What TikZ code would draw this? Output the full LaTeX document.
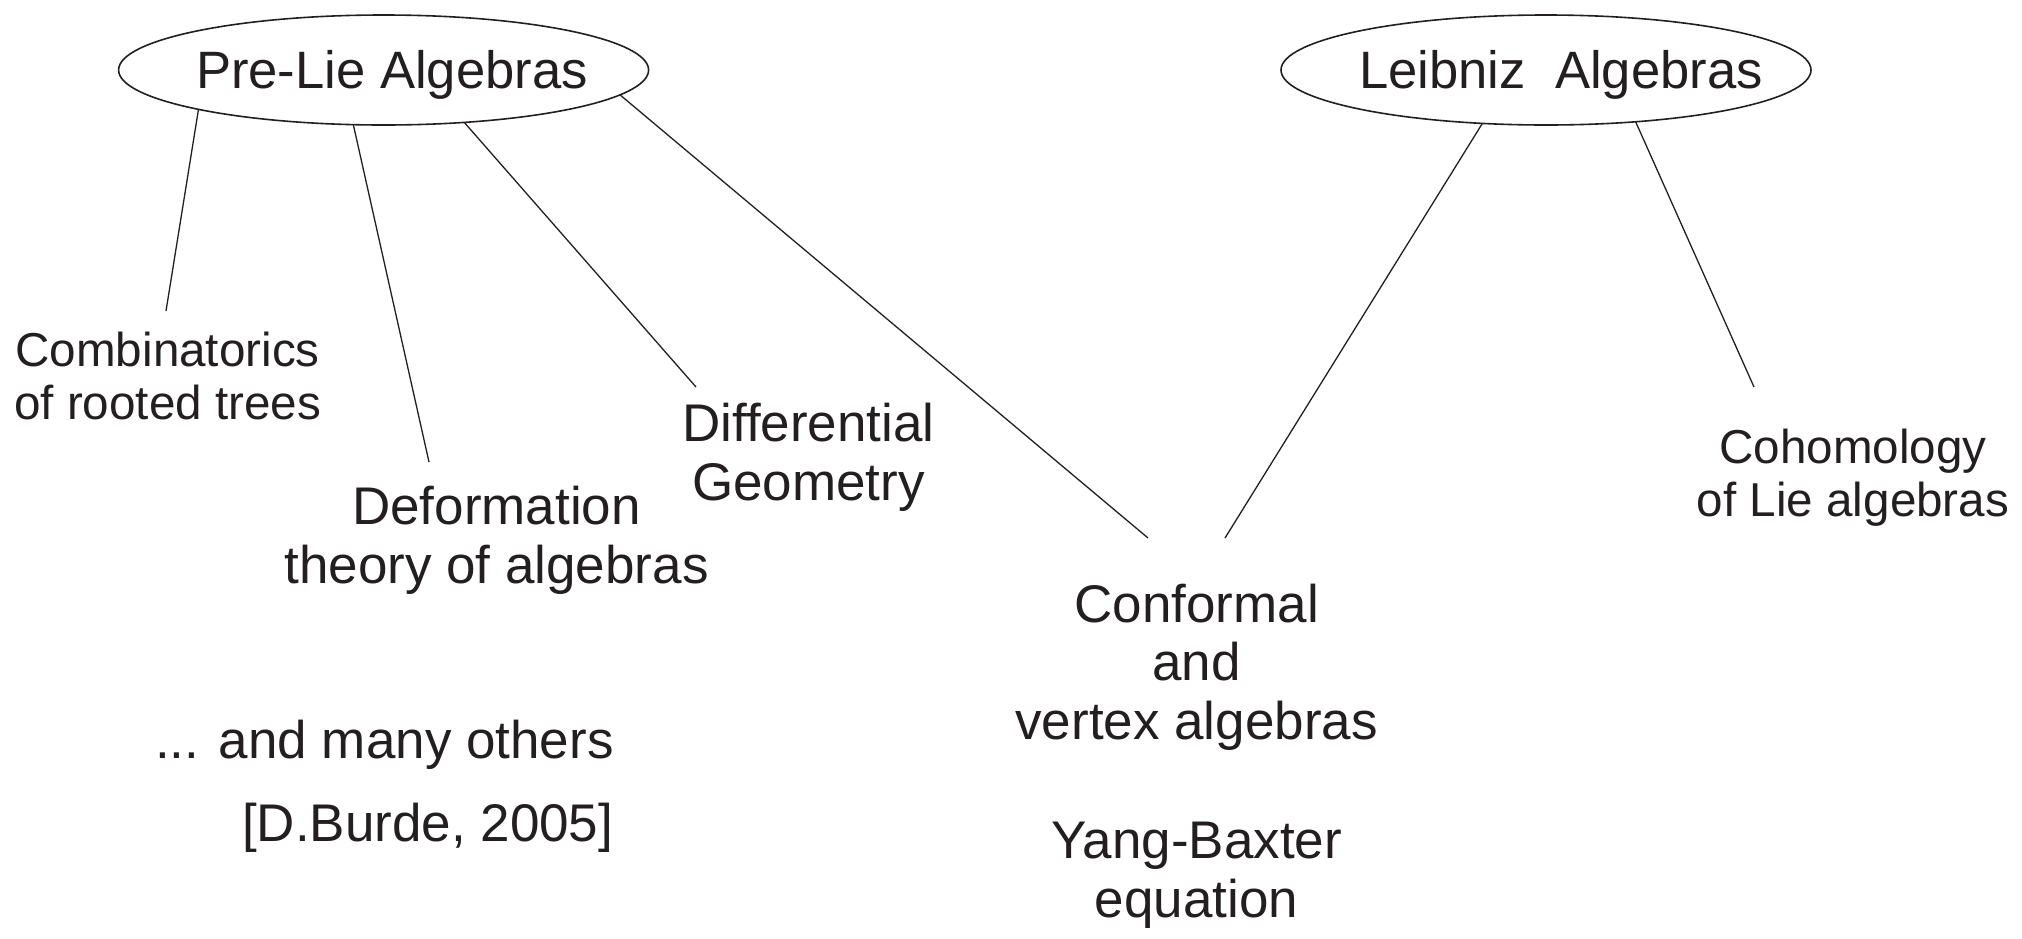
\documentclass[tikz,border=0pt]{standalone}
\usepackage{fontspec}
\setmainfont{Liberation Sans}
\usetikzlibrary{shapes.geometric}
\definecolor{ink}{RGB}{35,31,32}
\begin{document}
\begin{tikzpicture}[x=1pt, y=-1pt,
  every node/.style={text=ink, inner sep=0pt, outer sep=0pt},
  topic/.style={draw=ink, line width=1.6pt, ellipse, minimum width=530pt, minimum height=110pt},
  title/.style={font=\fontsize{52.6}{60}\selectfont, anchor=base},
  % multi-line labels are placed by the baseline of their last line
  lab/.style={font=\fontsize{53}{58.5}\selectfont, align=center, anchor=base},
  smalllab/.style={font=\fontsize{47.6}{53}\selectfont, align=center, anchor=base},
  note/.style={font=\fontsize{53}{58.5}\selectfont, anchor=base west},
  link/.style={draw=ink, line width=1.3pt}]
\useasboundingbox (0,0) rectangle (2022,938);

% the two families of algebras
\node[topic] (pre) at (383.6,70) {};
\node[title] (pretitle) at (392,88) {Pre-Lie Algebras};
\node[topic] (leib) at (1546,70) {};
\node[title] (leibtitle) at (1561,88) {Leibniz\ \ Algebras};

% fields of application
\node[smalllab] (comb) at (167.6,419) {Combinatorics\\of rooted trees};
\node[lab] (deform) at (496.5,583) {Deformation\\theory of algebras};
\node[lab] (diff) at (808.5,500) {Differential\\Geometry};
\node[lab] (conf) at (1196.6,739) {Conformal\\and\\vertex algebras};
\node[lab] (yang) at (1196.6,917) {Yang-Baxter\\equation};
\node[smalllab] (cohom) at (1853,516) {Cohomology\\of Lie algebras};
\node[note] (others) at (155,758) {... and many others};
\node[note] (burde) at (242,841) {[D.Burde, 2005]};

% loose ends of the links, just above each field
\coordinate (ea) at (166,311);
\coordinate (eb) at (429,462);
\coordinate (ec) at (696,387);
\coordinate (ed) at (1148,538);
\coordinate (ee) at (1225,538);
\coordinate (ef) at (1754,387);

\draw[link] (pre.192.8) -- (ea);
\draw[link] (pre.241.8) -- (eb);
\draw[link] (pre.327.8) -- (ec);
\draw[link] (pre.354.6) -- (ed);
\draw[link] (leib.220.6) -- (ee);
\draw[link] (leib.330.8) -- (ef);
\end{tikzpicture}
\end{document}
